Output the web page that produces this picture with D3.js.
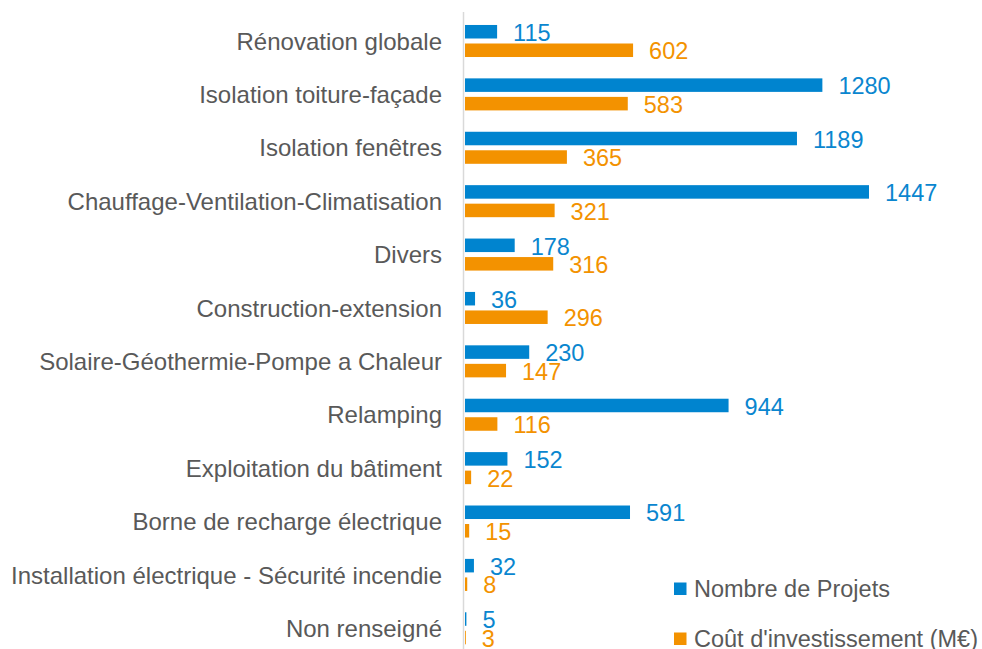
<!DOCTYPE html>
<html>
<head>
<meta charset="utf-8">
<script src="https://cdn.jsdelivr.net/npm/d3@7"></script>
<style>
  html, body { margin: 0; padding: 0; background: #ffffff; }
  svg { display: block; font-family: "Liberation Sans", Arial, sans-serif; }
</style>
</head>
<body>
<svg id="chart" width="982" height="649"></svg>
<script>
// Types de travaux
const categories = [
  "Rénovation globale",
  "Isolation toiture-façade",
  "Isolation fenêtres",
  "Chauffage-Ventilation-Climatisation",
  "Divers",
  "Construction-extension",
  "Solaire-Géothermie-Pompe a Chaleur",
  "Relamping",
  "Exploitation du bâtiment",
  "Borne de recharge électrique",
  "Installation électrique - Sécurité incendie",
  "Non renseigné"
];
// Nombre de projets par type
const nombreProjets = [115, 1280, 1189, 1447, 178, 36, 230, 944, 152, 591, 32, 5];
// Coût d'investissement (M€) par type
const coutInvestissement = [602, 583, 365, 321, 316, 296, 147, 116, 22, 15, 8, 3];

const seriesNames = ["Nombre de Projets", "Coût d'investissement (M€)"];
const seriesColors = ["#0084cf", "#f39200"];
const labelColors = ["#0a86cf", "#f39200"];

const rows = categories.map((c, i) => ({
  cat: c,
  values: [nombreProjets[i], coutInvestissement[i]]
}));

const svg = d3.select("#chart");
const x0 = 465;
const x = d3.scaleLinear().domain([0, 1600]).range([x0, x0 + 1600 * 0.2792]);
const y = d3.scaleBand().domain(categories).range([14.3, 655]).paddingInner(0.4).paddingOuter(0.2);
const ySub = d3.scaleBand().domain([0, 1]).range([0, y.bandwidth()]).paddingInner(0.27);

// Axe vertical
svg.append("line")
  .attr("x1", 463.5).attr("x2", 463.5)
  .attr("y1", 12).attr("y2", 649)
  .attr("stroke", "#d9d9d9").attr("stroke-width", 1.5);

// Libellés des catégories
const yAxis = d3.axisLeft(y).tickSize(0).tickPadding(0);
const gAxis = svg.append("g").attr("transform", "translate(442,0)").call(yAxis);
gAxis.select(".domain").remove();
gAxis.selectAll("text")
  .attr("fill", "#595959")
  .attr("dy", "0.36em")
  .style("font-size", "24px")
  .style("font-family", "'Liberation Sans', Arial, sans-serif");

// Barres et étiquettes de valeur
const groups = svg.append("g").selectAll("g").data(rows).join("g")
  .attr("transform", d => `translate(0,${y(d.cat)})`);

groups.selectAll("rect").data(d => d.values).join("rect")
  .attr("x", x0)
  .attr("y", (v, i) => ySub(i))
  .attr("width", v => x(v) - x0)
  .attr("height", ySub.bandwidth())
  .attr("fill", (v, i) => seriesColors[i]);

groups.selectAll("text").data(d => d.values).join("text")
  .attr("x", v => x(v) + 16)
  .attr("y", (v, i) => ySub(i) + ySub.bandwidth() / 2 + 1)
  .attr("dy", "0.35em")
  .attr("fill", (v, i) => labelColors[i])
  .style("font-size", "23.5px")
  .text(v => v);

// Légende
const legend = svg.append("g");
const legendY = [589, 639];
seriesNames.forEach((name, i) => {
  legend.append("rect")
    .attr("x", 674).attr("y", legendY[i] - 6.5)
    .attr("width", 12.5).attr("height", 12.5)
    .attr("fill", seriesColors[i]);
  legend.append("text")
    .attr("x", 694).attr("y", legendY[i])
    .attr("dy", "0.35em")
    .attr("fill", "#595959")
    .style("font-size", "23.5px")
    .text(name);
});
</script>
</body>
</html>
